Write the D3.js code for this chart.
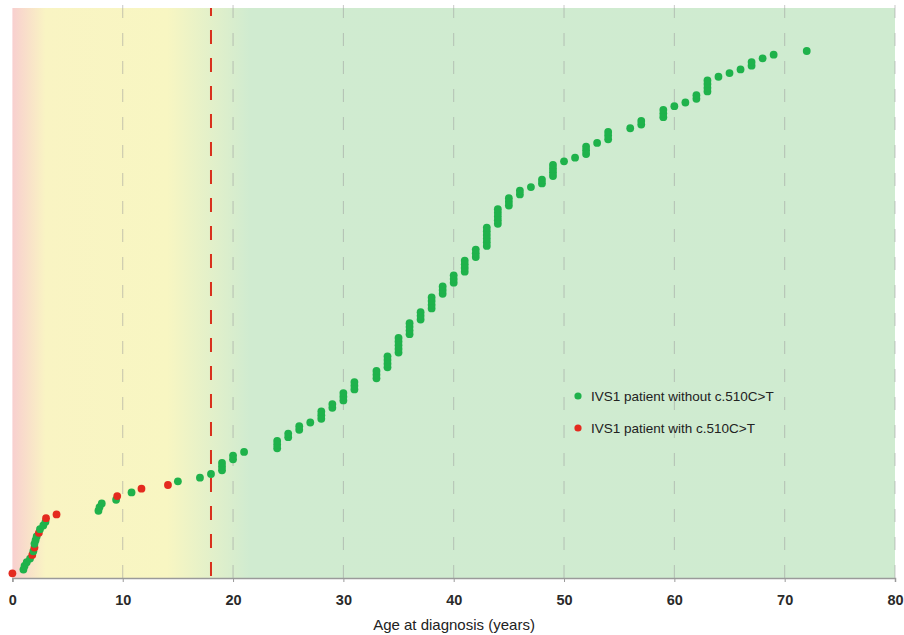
<!DOCTYPE html>
<html lang="en">
<head>
<meta charset="UTF-8">
<title>Age at diagnosis</title>
<script src="https://d3js.org/d3.v7.min.js"></script>
<style>
  body { margin: 0; background: #fff; }
  svg { display: block; font-family: "Liberation Sans", Arial, sans-serif; }
</style>
</head>
<body>
<svg id="main" width="904" height="635"></svg>
<script>
// patients grouped by age at diagnosis, in rank order
const ages = [0, 1.0, 1.1, 1.3, 1.6, 1.8, 1.9, 2.0, 2.0, 2.1, 2.2, 2.4, 2.5, 2.8, 3.0, 3.05, 4.0,
  7.8, 7.9, 8.1, 9.4, 9.5, 10.8, 11.7, 14.1, 15, 17, 18, 19, 20, 21, 24, 25, 26, 27, 28, 29,
  30, 31, 33, 34, 35, 36, 37, 38, 39, 40, 41, 42, 43, 44, 45, 46, 47, 48, 49, 50, 51, 52, 53,
  54, 56, 57, 59, 60, 61, 62, 63, 64, 65, 66, 67, 68, 69, 72];
const counts = [1, 1, 1, 1, 1, 1, 1, 1, 1, 1, 1, 1, 1, 1, 1, 1, 1,
  1, 1, 1, 1, 1, 1, 1, 1, 1, 1, 1, 3, 2, 1, 3, 2, 2, 1, 3, 2,
  3, 3, 3, 4, 5, 4, 3, 4, 3, 3, 4, 3, 6, 5, 3, 2, 1, 2, 4, 1, 1, 3, 1,
  3, 1, 2, 3, 1, 1, 2, 4, 1, 1, 1, 2, 1, 1, 1];
// 1 = with c.510C>T, 0 = without
const withVariant = [1, 0, 0, 0, 0, 1, 0, 1, 0, 0, 0, 1, 0, 0, 0, 1, 1,
  0, 0, 0, 0, 1, 0, 1, 1, 0, 0, 0, 0, 0, 0, 0, 0, 0, 0, 0, 0,
  0, 0, 0, 0, 0, 0, 0, 0, 0, 0, 0, 0, 0, 0, 0, 0, 0, 0, 0, 0, 0, 0, 0,
  0, 0, 0, 0, 0, 0, 0, 0, 0, 0, 0, 0, 0, 0, 0];
const xTicks = [0, 10, 20, 30, 40, 50, 60, 70, 80];
const cutoffAge = 18;
const legendLabels = ["IVS1 patient without c.510C>T", "IVS1 patient with c.510C>T"];

const green = "#1fb24b", red = "#e42a1f";

let patients = [];
ages.forEach((a, i) => {
  for (let k = 0; k < counts[i]; k++) patients.push({age: a, red: withVariant[i]});
});
patients.forEach((p, i) => p.rank = i + 1);

let svg = d3.select("svg#main");
let plotTop = 8, plotBottom = 578;
let x = d3.scaleLinear().domain([0, 80]).range([12.4, 895]);
let y = d3.scaleLinear().domain([1, patients.length]).range([573.3, 51]);

// background gradient: red -> yellow -> green
let grad = svg.append("defs").append("linearGradient")
  .attr("id", "bg").attr("gradientUnits", "userSpaceOnUse")
  .attr("x1", x(0)).attr("x2", x(80)).attr("y1", 0).attr("y2", 0);
[[0, "#f8cfcf"], [3, "#f9f4c3"], [14, "#f8f6c2"], [21.5, "#d0ebd0"], [80, "#cfebd0"]].forEach(s => {
  grad.append("stop").attr("offset", s[0] / 80).attr("stop-color", s[1]);
});
svg.append("rect")
  .attr("x", x(0)).attr("y", plotTop)
  .attr("width", x(80) - x(0)).attr("height", plotBottom - plotTop)
  .attr("fill", "url(#bg)");

// dashed grid
svg.append("g").selectAll("line")
  .data(xTicks.filter(d => d > 0))
  .join("line")
  .attr("x1", d => x(d)).attr("x2", d => x(d))
  .attr("y1", 5).attr("y2", plotBottom)
  .attr("stroke", "#9a9a9a").attr("stroke-opacity", 0.55)
  .attr("stroke-width", 1)
  .attr("stroke-dasharray", "13,15");

// cutoff line at 18 years
svg.append("line")
  .attr("x1", x(cutoffAge)).attr("x2", x(cutoffAge))
  .attr("y1", plotTop).attr("y2", plotBottom)
  .attr("stroke", "#d9301c").attr("stroke-width", 2)
  .attr("stroke-dasharray", "14,14")
  .attr("stroke-dashoffset", 6);

// x axis
let axis = svg.append("g")
  .attr("transform", `translate(0,${plotBottom})`)
  .call(d3.axisBottom(x).tickValues(xTicks).tickSize(4).tickPadding(13));
axis.select(".domain").attr("stroke", "#9a9a9a").attr("stroke-width", 1.5);
axis.selectAll(".tick line").attr("stroke", "#9a9a9a");
axis.selectAll(".tick text")
  .attr("font-size", "14.5px").attr("font-weight", "bold")
  .attr("fill", "#2a2a2a").attr("font-family", "Liberation Sans, Arial, sans-serif");

svg.append("text")
  .attr("x", 454).attr("y", 630)
  .attr("text-anchor", "middle")
  .attr("font-size", "15px").attr("fill", "#222")
  .text("Age at diagnosis (years)");

// points
svg.append("g").selectAll("circle")
  .data(patients)
  .join("circle")
  .attr("cx", d => x(d.age))
  .attr("cy", d => y(d.rank))
  .attr("r", 3.9)
  .attr("fill", d => d.red ? red : green);

// legend
let legend = svg.append("g").selectAll("g")
  .data(legendLabels)
  .join("g")
  .attr("transform", (d, i) => `translate(578,${396 + i * 32})`);
legend.append("circle").attr("r", 3.6).attr("fill", (d, i) => i ? red : green);
legend.append("text")
  .attr("x", 13).attr("dy", "0.35em")
  .attr("font-size", "13.5px").attr("fill", "#222")
  .text(d => d);
</script>
</body>
</html>
